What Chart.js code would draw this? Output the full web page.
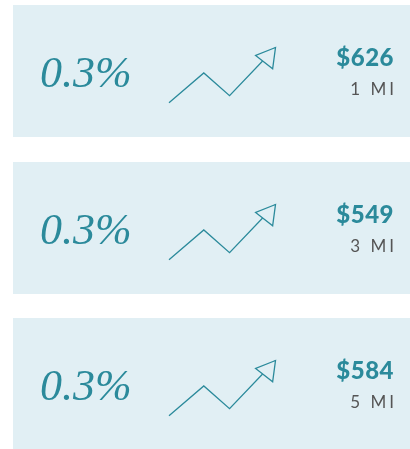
<!DOCTYPE html>
<html>
<head>
<meta charset="utf-8">
<script src="https://cdn.jsdelivr.net/npm/chart.js@4"></script>
<style>
    html, body { margin: 0; padding: 0; background: #fff; }
    body { width: 410px; height: 449px; position: relative; overflow: hidden; }
    .panel { position: absolute; left: 13px; width: 397px; height: 132px; background: #e1eff4; }
    .panel canvas { position: absolute; left: 0; top: 0; }
    .pct { position: absolute; left: 27px; top: 46px; font-family: "Liberation Serif", serif; font-style: italic;
           font-size: 44px; line-height: 43px; color: #2b8a9b; white-space: nowrap; }
    .price { position: absolute; right: 16px; top: 40px; font-family: Lato, sans-serif; font-weight: 900;
             font-size: 24px; line-height: 24px; color: #2b8a9b; letter-spacing: 0.5px; white-space: nowrap; }
    .dist { position: absolute; right: 13px; top: 75px; font-family: Lato, sans-serif; font-size: 17px;
            line-height: 17px; color: #555; letter-spacing: 3px; white-space: nowrap; }
</style>
</head>
<body>
<script>
const changes = ['0.3%', '0.3%', '0.3%'];
const prices = ['$626', '$549', '$584'];
const distances = ['1 MI', '3 MI', '5 MI'];

// trend icon: up, down, up to the arrow tip
const trendX = [0, 1, 1.74, 3.06];
const trendY = [0, 1, 0.24, 1.85];

const TEAL = '#2b8a9b';
const PANEL_BG = '#e1eff4';
const panelTops = [5, 162, 318];

const arrowHead = {
    id: 'arrowHead',
    afterDatasetsDraw(chart) {
        const pts = chart.getDatasetMeta(0).data;
        const tip = pts[pts.length - 1];
        const prev = pts[pts.length - 2];
        const angle = Math.atan2(tip.y - prev.y, tip.x - prev.x) - 0.1;
        const len = 18.5, half = 10.8;
        const bx = tip.x - Math.cos(angle) * len;
        const by = tip.y - Math.sin(angle) * len;
        const ctx = chart.ctx;
        ctx.save();
        ctx.beginPath();
        ctx.moveTo(tip.x, tip.y);
        ctx.lineTo(bx + Math.sin(angle) * half, by - Math.cos(angle) * half);
        ctx.lineTo(bx - Math.sin(angle) * half, by + Math.cos(angle) * half);
        ctx.closePath();
        ctx.fillStyle = PANEL_BG;
        ctx.fill();
        ctx.strokeStyle = TEAL;
        ctx.lineWidth = 1.3;
        ctx.lineJoin = 'miter';
        ctx.stroke();
        ctx.restore();
    }
};

prices.forEach((price, i) => {
    const panel = document.createElement('div');
    panel.className = 'panel';
    panel.style.top = panelTops[i] + 'px';
    panel.innerHTML = `
        <canvas width="397" height="132"></canvas>
        <div class="pct">${changes[i]}</div>
        <div class="price">${price}</div>
        <div class="dist">${distances[i]}</div>`;
    document.body.appendChild(panel);

    const ctx = panel.querySelector('canvas').getContext('2d');
    new Chart(ctx, {
        type: 'scatter',
        data: {
            datasets: [{
                data: trendX.map((x, j) => ({ x: x, y: trendY[j] })),
                showLine: true,
                borderColor: TEAL,
                borderWidth: 1.3,
                pointRadius: 0,
                tension: 0,
                clip: false
            }]
        },
        options: {
            responsive: false,
            animation: false,
            events: [],
            layout: { padding: { left: 156, right: 134.5, top: 42.5, bottom: 34.2 } },
            plugins: { legend: { display: false }, tooltip: { enabled: false } },
            scales: {
                x: { type: 'linear', display: false, min: 0, max: 3.06 },
                y: { display: false, min: 0, max: 1.85 }
            }
        },
        plugins: [arrowHead]
    });
});
</script>
</body>
</html>
